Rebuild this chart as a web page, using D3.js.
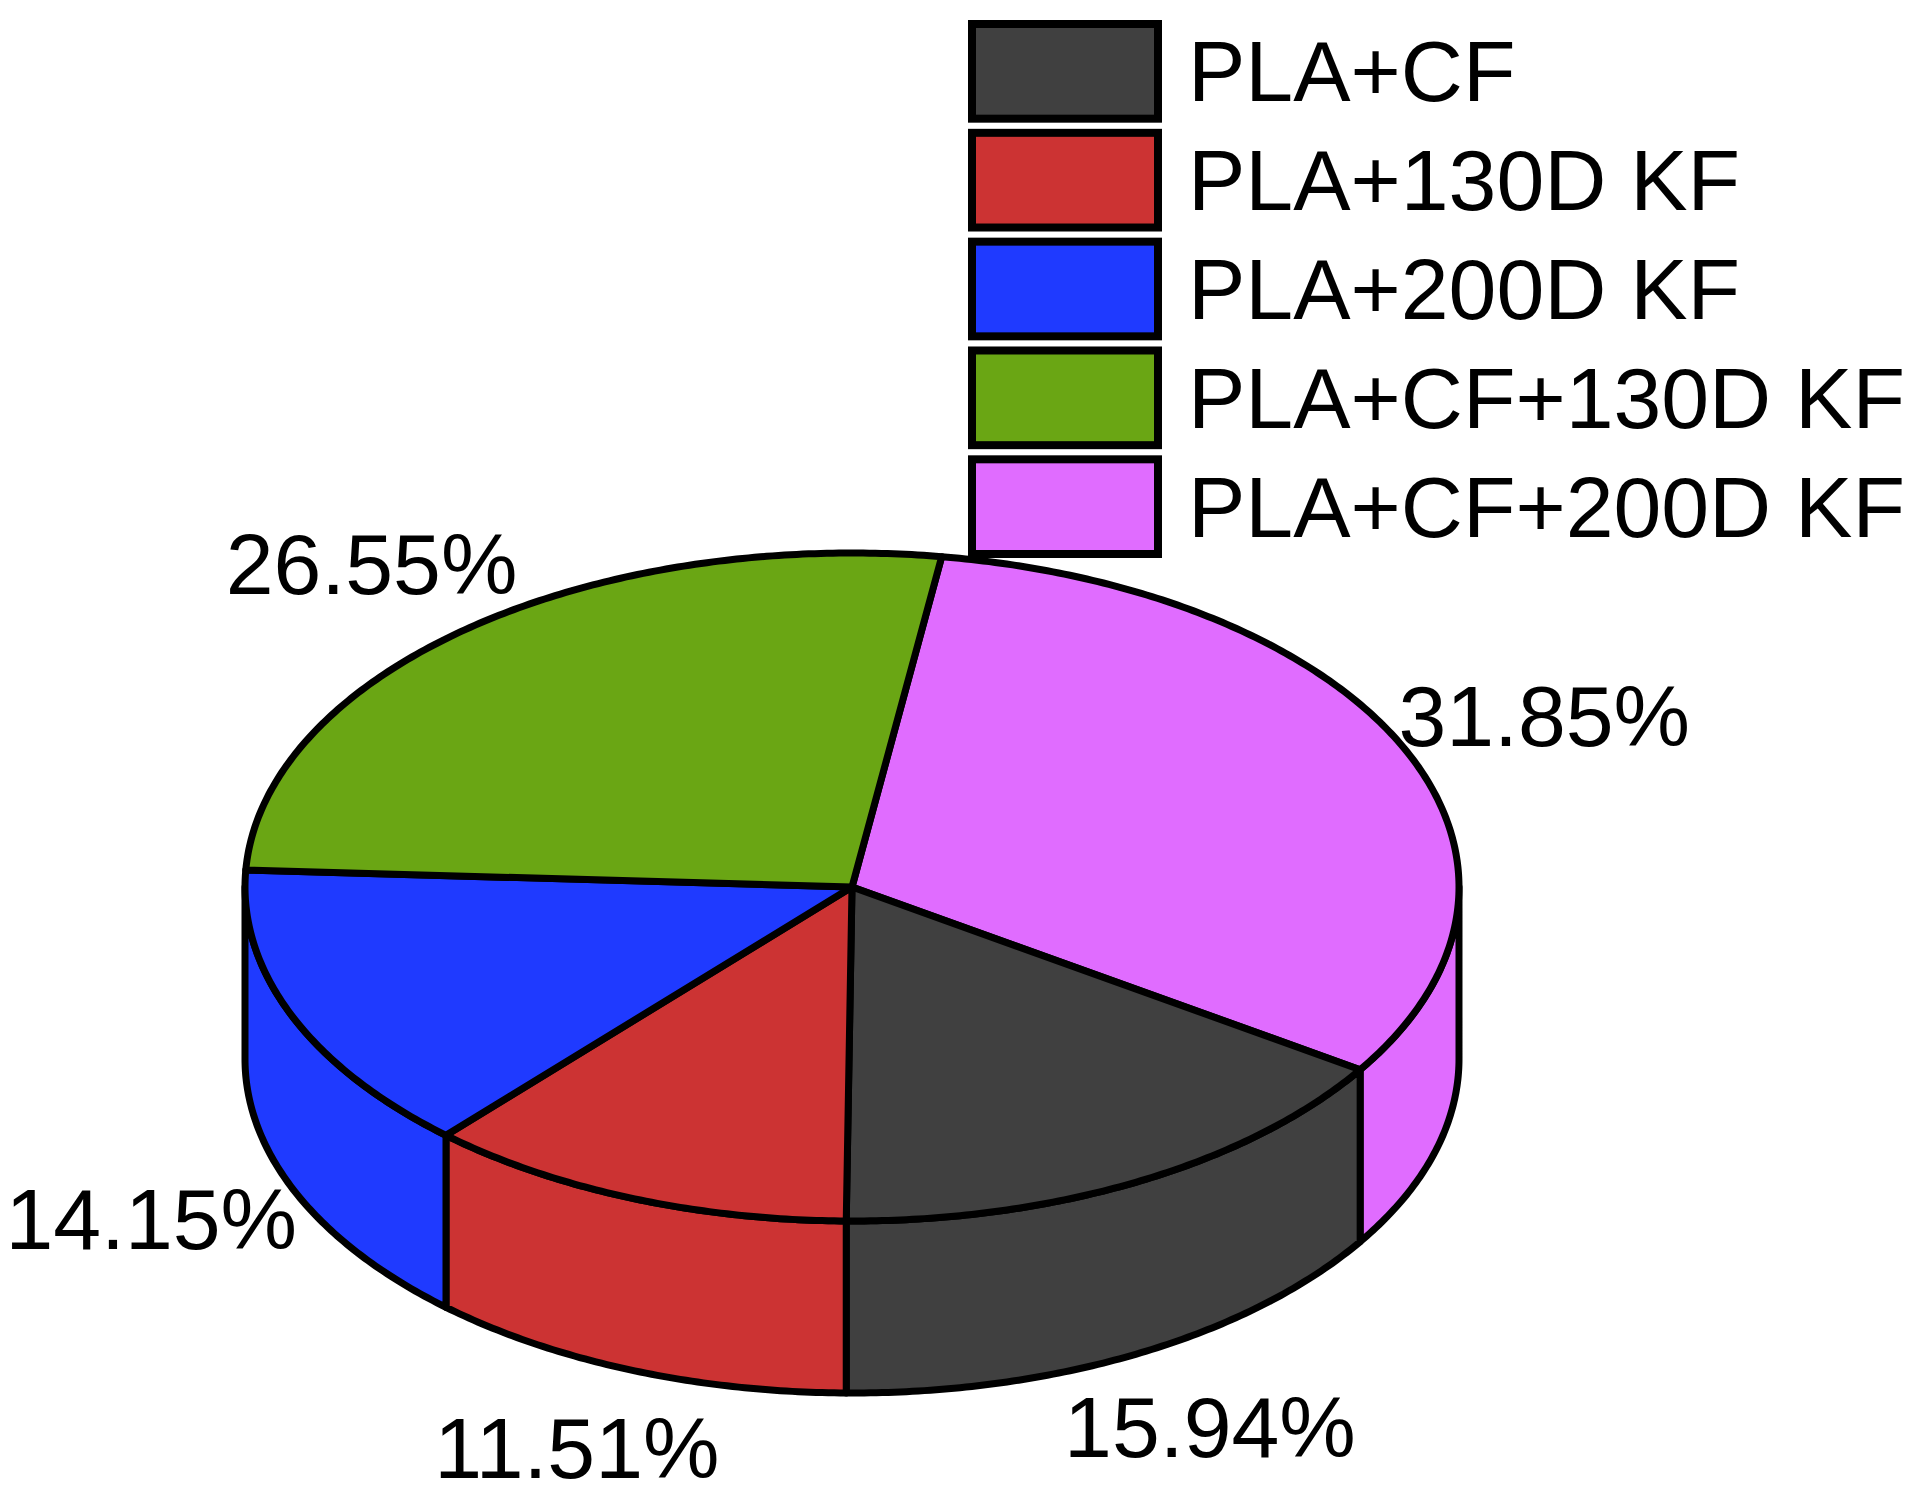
<!DOCTYPE html>
<html><head><meta charset="utf-8">
<script src="https://cdn.jsdelivr.net/npm/d3@7"></script>
<style>body{margin:0;background:#fff}</style>
</head><body><div id="canvas"></div>
<script>
const categories = ["PLA+CF", "PLA+130D KF", "PLA+200D KF", "PLA+CF+130D KF", "PLA+CF+200D KF"];
const values = [15.94, 11.51, 14.15, 26.55, 31.85];
const colors = ["#404040", "#cc3333", "#1f3aff", "#6aa614", "#e06cff"];
// drawing order around the pie (starts with the pink slice)
const pieOrder = [4, 0, 1, 2, 3];

const width = 1916, height = 1504;
const cx = 852, cy = 887, rx = 607, ry = 334, depth = 172;

const svg = d3.select("#canvas").append("svg").attr("width", width).attr("height", height);

const pie = d3.pie().sort(null).value(i => values[i])
  .startAngle(8.5 * Math.PI / 180).endAngle(8.5 * Math.PI / 180 + 2 * Math.PI);
const arcs = pie(pieOrder);

const px = (a, k = 1) => cx + k * rx * Math.sin(a);
const py = (a, k = 1) => cy - k * ry * Math.cos(a);

function pts(a0, a1, dy) {
  const n = Math.max(2, Math.ceil((a1 - a0) / 0.01));
  return d3.range(n + 1).map(j => { const a = a0 + (a1 - a0) * j / n; return [px(a), py(a) + dy]; });
}

const g = svg.append("g").attr("stroke", "#000").attr("stroke-width", 7).attr("stroke-linejoin", "round");

// side walls (front half only)
arcs.forEach(d => {
  const lo = Math.max(d.startAngle, Math.PI / 2), hi = Math.min(d.endAngle, 3 * Math.PI / 2);
  if (hi <= lo) return;
  const top = pts(lo, hi, 0), bot = pts(lo, hi, depth).reverse();
  g.append("path").attr("d", d3.line()(top.concat(bot)) + "Z").attr("fill", colors[d.data]);
});

// top faces
arcs.forEach(d => {
  const p = [[cx, cy]].concat(pts(d.startAngle, d.endAngle, 0));
  g.append("path").attr("d", d3.line()(p) + "Z").attr("fill", colors[d.data]);
});

// percentage labels
arcs.forEach(d => {
  const m = (d.startAngle + d.endAngle) / 2;
  const extra = Math.cos(m) < 0 ? depth : 0;
  svg.append("text").attr("x", px(m, 1.25)).attr("y", py(m, 1.25) + extra)
    .attr("text-anchor", "middle").attr("dominant-baseline", "central")
    .attr("font-family", "Liberation Sans, Arial, sans-serif").attr("font-size", 86)
    .text(values[d.data].toFixed(2) + "%");
});

// legend
const ly = d3.scaleBand().domain(categories).range([24, 554]).paddingInner(0.13);
const leg = svg.append("g");
categories.forEach((c, i) => {
  leg.append("rect").attr("x", 972).attr("y", ly(c)).attr("width", 186).attr("height", ly.bandwidth())
    .attr("fill", colors[i]).attr("stroke", "#000").attr("stroke-width", 8);
  leg.append("text").attr("x", 1188).attr("y", ly(c) + ly.bandwidth() / 2)
    .attr("dominant-baseline", "central")
    .attr("font-family", "Liberation Sans, Arial, sans-serif").attr("font-size", 86)
    .text(c);
});
</script></body></html>
